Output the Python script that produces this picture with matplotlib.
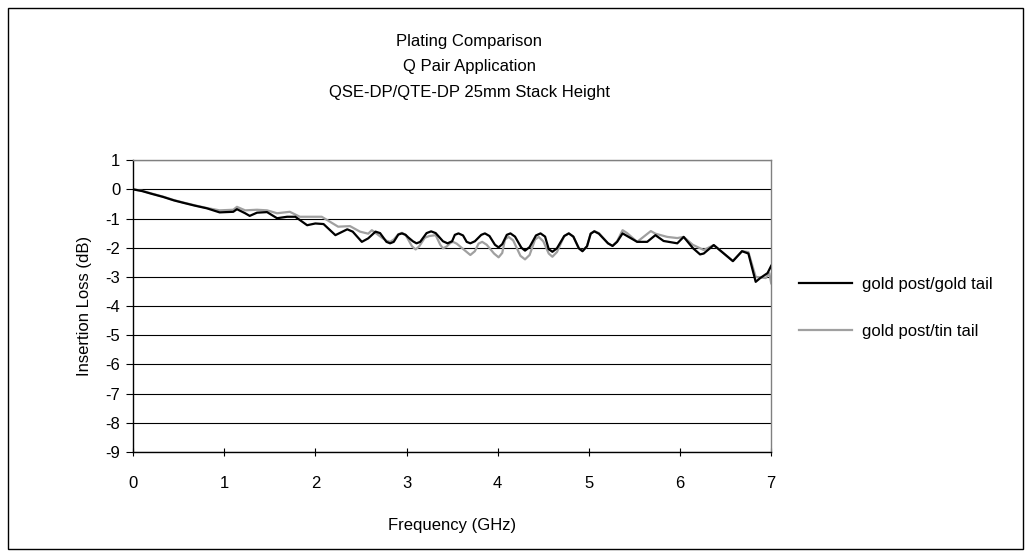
import matplotlib
matplotlib.use('Agg')
import matplotlib.pyplot as plt
from matplotlib.patches import Rectangle

plt.rcParams['font.family'] = ['Liberation Sans', 'DejaVu Sans']
plt.rcParams['axes.unicode_minus'] = False

# --- Data (GHz, dB) ---
freq_gold = [0.00, 0.10, 0.20, 0.33, 0.45, 0.55, 0.68, 0.81, 0.95, 1.10, 1.14,
             1.23, 1.28, 1.36, 1.47, 1.58, 1.69, 1.78, 1.91, 2.00, 2.09, 2.22,
             2.35, 2.41, 2.51, 2.58, 2.66, 2.71,
             2.78, 2.82, 2.86, 2.91, 2.95, 2.99, 3.02, 3.07, 3.11, 3.15,
             3.22, 3.27, 3.32, 3.40, 3.45, 3.50, 3.53, 3.57, 3.62, 3.66, 3.70, 3.75,
             3.82, 3.86, 3.91, 3.97, 4.01, 4.05, 4.10, 4.14, 4.19, 4.26, 4.30, 4.35,
             4.42, 4.47, 4.52, 4.56, 4.60, 4.65, 4.73, 4.78, 4.83, 4.89, 4.93, 4.98,
             5.02, 5.06, 5.11, 5.21, 5.26, 5.31, 5.37,
             5.53, 5.64, 5.73, 5.82, 5.97, 6.04, 6.14, 6.22,
             6.26, 6.37, 6.50, 6.58, 6.68, 6.75, 6.83, 6.88, 6.96, 7.00]
loss_gold = [0.00, -0.06, -0.15, -0.26, -0.38, -0.46, -0.56, -0.65, -0.79, -0.77, -0.68,
             -0.82, -0.91, -0.80, -0.78, -0.99, -0.94, -0.94, -1.23, -1.17, -1.19, -1.57,
             -1.37, -1.45, -1.80, -1.68, -1.45, -1.50,
             -1.80, -1.85, -1.80, -1.55, -1.51, -1.56, -1.65, -1.78, -1.85, -1.80,
             -1.50, -1.44, -1.50, -1.78, -1.85, -1.78, -1.56, -1.51, -1.58, -1.80, -1.85, -1.78,
             -1.56, -1.51, -1.60, -1.90, -1.99, -1.88, -1.56, -1.51, -1.62, -2.00, -2.10, -1.98,
             -1.58, -1.51, -1.62, -2.05, -2.14, -2.02, -1.60, -1.51, -1.62, -2.02, -2.12, -1.95,
             -1.52, -1.44, -1.52, -1.85, -1.94, -1.80, -1.51,
             -1.80, -1.80, -1.57, -1.77, -1.85, -1.63, -2.01, -2.23,
             -2.20, -1.91, -2.25, -2.46, -2.12, -2.20, -3.17, -3.04, -2.87, -2.62]

freq_tin = [0.00, 0.10, 0.20, 0.33, 0.45, 0.55, 0.68, 0.81, 0.95, 1.10, 1.14,
            1.23, 1.36, 1.47, 1.58, 1.72, 1.83, 2.07, 2.25, 2.38, 2.49, 2.58,
            2.62, 2.74, 2.78, 2.82, 2.86, 2.91, 2.95, 2.99, 3.06, 3.10, 3.14,
            3.20, 3.25, 3.32, 3.37, 3.40, 3.44, 3.48, 3.51, 3.55, 3.65, 3.70, 3.75,
            3.79, 3.83, 3.88, 3.96, 4.01, 4.05, 4.08, 4.12, 4.17, 4.25, 4.30, 4.35,
            4.41, 4.45, 4.50, 4.56, 4.60, 4.65, 4.73, 4.78, 4.83, 4.89, 4.93, 4.98,
            5.02, 5.06, 5.11, 5.21, 5.26, 5.31, 5.37, 5.42, 5.53,
            5.68, 5.73, 5.86, 5.97, 6.04, 6.14, 6.26, 6.37, 6.50, 6.58, 6.68,
            6.75, 6.83, 6.94, 6.98, 7.00]
loss_tin = [0.00, -0.05, -0.14, -0.25, -0.37, -0.45, -0.55, -0.64, -0.72, -0.70, -0.60,
            -0.72, -0.70, -0.72, -0.82, -0.77, -0.94, -0.94, -1.28, -1.26, -1.45, -1.52,
            -1.40, -1.68, -1.76, -1.80, -1.72, -1.54, -1.49, -1.56, -1.95, -2.06, -1.95,
            -1.66, -1.60, -1.57, -1.90, -2.02, -1.96, -1.84, -1.80, -1.86, -2.12, -2.25, -2.12,
            -1.86, -1.80, -1.90, -2.20, -2.33, -2.18, -1.72, -1.63, -1.75, -2.28, -2.40, -2.25,
            -1.72, -1.63, -1.78, -2.20, -2.31, -2.15, -1.60, -1.51, -1.62, -2.02, -2.12, -1.95,
            -1.52, -1.43, -1.50, -1.85, -1.94, -1.78, -1.40, -1.50, -1.80,
            -1.43, -1.52, -1.63, -1.67, -1.63, -1.90, -2.08, -1.91, -2.25, -2.46, -2.12,
            -2.15, -3.00, -3.04, -2.87, -3.22]

x_ticks = list(range(0, 8))
y_ticks = list(range(-9, 2))

# --- Figure ---
fig = plt.figure(figsize=(10.31, 5.58), dpi=100, facecolor='white')
ax = fig.add_axes([0.129, 0.190, 0.619, 0.523])

ax.plot(freq_gold, loss_gold, color='black', lw=1.6, label='gold post/gold tail', zorder=3)
ax.plot(freq_tin, loss_tin, color='#a0a0a0', lw=1.6, label='gold post/tin tail', zorder=2)

ax.set_xlim(0, 7)
ax.set_ylim(-9, 1)
ax.set_xticks(x_ticks)
ax.set_yticks(y_ticks)
ax.yaxis.grid(True, color='black', lw=0.8)
ax.set_axisbelow(True)

for side in ('top', 'right'):
    ax.spines[side].set_color('#808080')
    ax.spines[side].set_linewidth(1.0)
for side in ('left', 'bottom'):
    ax.spines[side].set_color('black')
    ax.spines[side].set_linewidth(1.0)

ax.tick_params(axis='y', direction='out', length=5, width=0.8, labelsize=12, pad=4)
ax.tick_params(axis='x', direction='inout', length=6, width=0.8, labelsize=12, pad=14)

ax.set_xlabel('Frequency (GHz)', fontsize=12, labelpad=20)
ax.set_ylabel('Insertion Loss (dB)', fontsize=12, labelpad=10)

fig.text(0.455, 0.925, 'Plating Comparison', ha='center', va='center', fontsize=12)
fig.text(0.455, 0.880, 'Q Pair Application', ha='center', va='center', fontsize=12)
fig.text(0.455, 0.835, 'QSE-DP/QTE-DP 25mm Stack Height', ha='center', va='center', fontsize=12)

ax.legend(loc='upper left', bbox_to_anchor=(1.02, 0.65), frameon=False, fontsize=12,
          handlelength=3.2, handletextpad=0.6, labelspacing=1.9)

# outer chart border
fig.patches.append(Rectangle((0.008, 0.016), 0.984, 0.97, transform=fig.transFigure,
                             fill=False, edgecolor='black', lw=1.0))

fig.savefig('out.png', dpi=100, facecolor='white')
